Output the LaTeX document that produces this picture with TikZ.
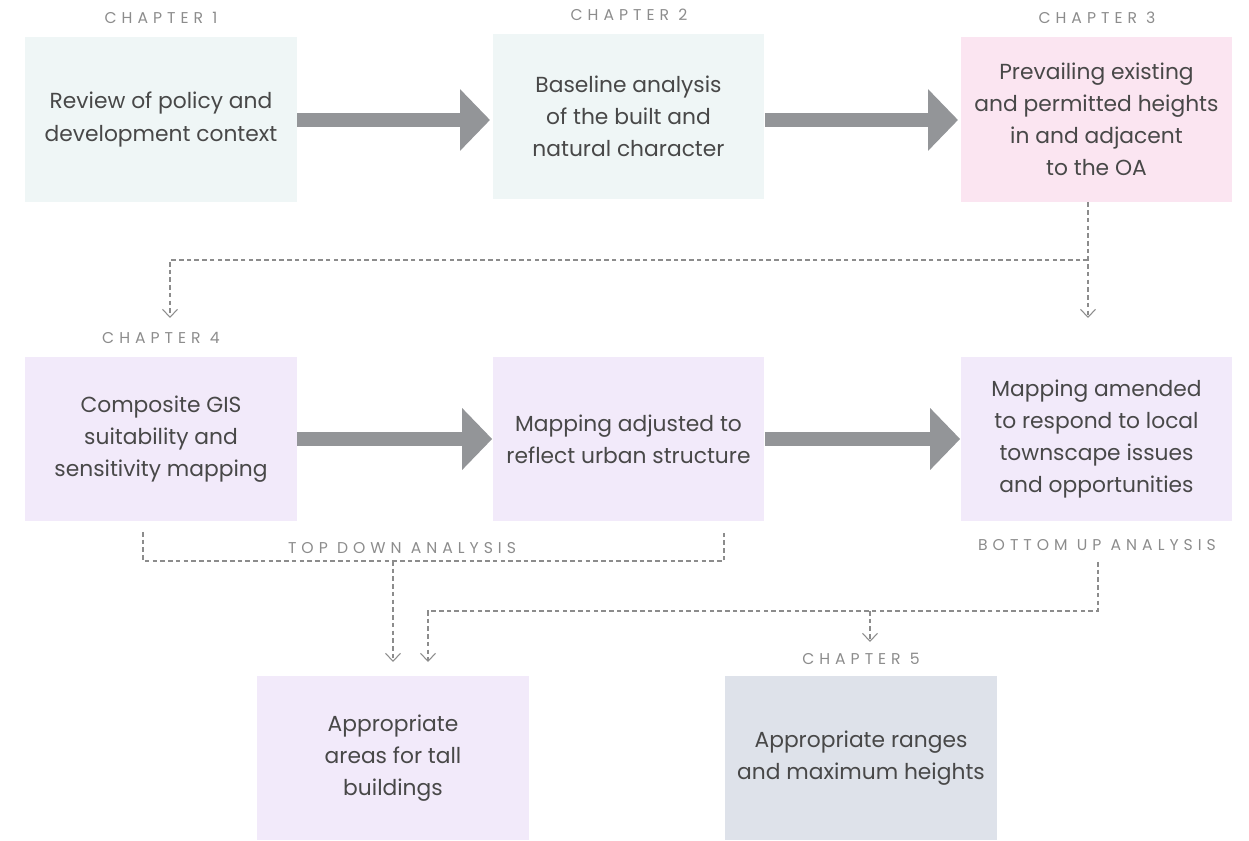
\documentclass[tikz,border=0pt]{standalone}
\usepackage{fontspec}
\setmainfont{Poppins}
\usetikzlibrary{arrows.meta,positioning}
\definecolor{tealbg}{HTML}{EFF6F6}
\definecolor{pinkbg}{HTML}{FBE5F1}
\definecolor{lilacbg}{HTML}{F2EAFA}
\definecolor{slatebg}{HTML}{DEE2EA}
\definecolor{arrowgray}{HTML}{939598}
\definecolor{dashgray}{HTML}{8C8C8C}
\definecolor{txtgray}{HTML}{484848}
\colorlet{taggray}{gray!90}
\newcommand{\spaced}[1]{{\addfontfeatures{LetterSpace=32}#1}}
\tikzset{
    stagebox/.style={minimum width=5.44cm, minimum height=3.3cm, inner sep=0pt,
        align=center, text=txtgray, font=\fontsize{12.4}{18.3}\selectfont},
    tag/.style={text=taggray, font=\fontsize{8.9}{10}\selectfont, inner sep=1pt},
    fatarrow/.style={draw=arrowgray, line width=0.28cm,
        -{Triangle[width=1.2cm,length=0.6cm,fill=arrowgray]}},
    dotline/.style={draw=dashgray, line width=0.6pt, dash pattern=on 2.6pt off 1.8pt},
    barb/.style={-{Straight Barb[length=4.5pt,width=8.5pt,line width=0.6pt]}}
}
\begin{document}
\begin{tikzpicture}[x=0.02cm,y=-0.02cm]
\useasboundingbox (0,0) rectangle (1249,841);
% stages
\node[stagebox, fill=tealbg] (b1) at (161,119.5) {Review of policy and\\development context};
\node[stagebox, fill=tealbg] (b2) at (628.5,116.5) {Baseline analysis\\of the built and\\natural character};
\node[stagebox, fill=pinkbg] (b3) at (1096.5,119.5) {Prevailing existing\\and permitted heights\\in and adjacent\\to the OA};
\node[stagebox, fill=lilacbg] (b4) at (161,439) {Composite GIS\\suitability and\\sensitivity mapping};
\node[stagebox, fill=lilacbg] (b5) at (628.5,439) {Mapping adjusted to\\reflect urban structure};
\node[stagebox, fill=lilacbg] (b6) at (1096.5,439) {Mapping amended\\to respond to local\\townscape issues\\and opportunities};
\node[stagebox, fill=lilacbg] (b7) at (393,758) {Appropriate\\areas for tall\\buildings};
\node[stagebox, fill=slatebg] (b8) at (861,758) {Appropriate ranges\\and maximum heights};
% labels
\node[tag] (ch1) at (161,18) {\spaced{CHAPTER 1}};
\node[tag] (ch2) at (629,15) {\spaced{CHAPTER 2}};
\node[tag] (ch3) at (1097,18) {\spaced{CHAPTER 3}};
\node[tag] (ch4) at (161,338) {\spaced{CHAPTER 4}};
\node[tag] (ch5) at (861,659) {\spaced{CHAPTER 5}};
\node[tag] (td) at (402,548) {\spaced{TOP DOWN ANALYSIS}};
\node[tag] (bu) at (1097,545) {\spaced{BOTTOM UP ANALYSIS}};
% thick arrows
\draw[fatarrow] (b1.east |- 0,120) -- (490,120);
\draw[fatarrow] (b2.east |- 0,120) -- (958,120);
\draw[fatarrow] (b4.east) -- (b5.west);
\draw[fatarrow] (b5.east) -- (b6.west);
% dashed connectors
\coordinate (j3) at (1088,260);
\coordinate (t4) at (170,318);
\coordinate (t6) at (1088,318);
\draw[dotline, barb] (b3.south -| j3) -- (t6);
\draw[dotline, barb] (j3) -| (t4);
\coordinate (tdl) at (143,532);
\coordinate (tdr) at (724,532);
\coordinate (tdm) at (393,561);
\coordinate (a7l) at (393,662);
\coordinate (a7r) at (428,662);
\draw[dotline] (tdl) |- (tdr |- tdm) -- (tdr);
\draw[dotline, barb] (tdm) -- (a7l);
\coordinate (bus) at (1098,562);
\coordinate (buj) at (428,611);
\coordinate (c5) at (870,611);
\coordinate (a8) at (870,642);
\draw[dotline, barb] (bus) |- (buj) -- (a7r);
\draw[dotline, barb] (c5) -- (a8);
\end{tikzpicture}
\end{document}
